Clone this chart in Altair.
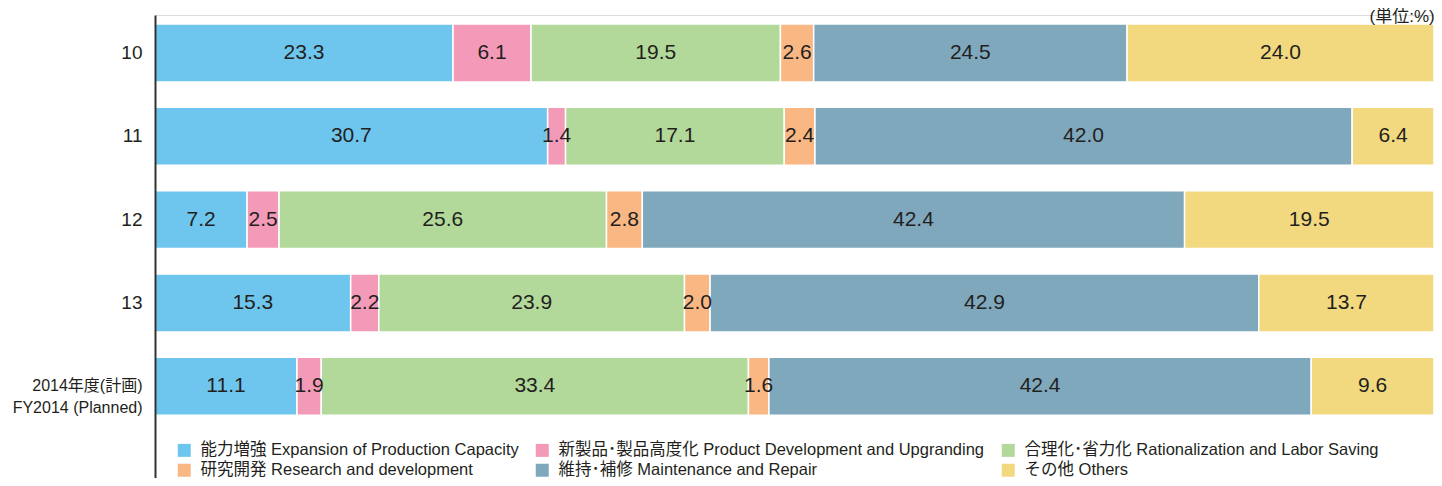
import altair as alt
import pandas as pd

years = ["10", "11", "12", "13", "2014年度(計画)|FY2014 (Planned)"]
series = [
    "能力増強 Expansion of Production Capacity",
    "新製品･製品高度化 Product Development and Upgranding",
    "合理化･省力化 Rationalization and Labor Saving",
    "研究開発 Research and development",
    "維持･補修 Maintenance and Repair",
    "その他 Others",
]
colors = ["#6EC6EE", "#F49AB9", "#B2D89A", "#F9B784", "#7FA8BD", "#F2D97F"]

capacity = [23.3, 30.7, 7.2, 15.3, 11.1]
product = [6.1, 1.4, 2.5, 2.2, 1.9]
rational = [19.5, 17.1, 25.6, 23.9, 33.4]
research = [2.6, 2.4, 2.8, 2.0, 1.6]
maint = [24.5, 42.0, 42.4, 42.9, 42.4]
others = [24.0, 6.4, 19.5, 13.7, 9.6]

values = [capacity, product, rational, research, maint, others]
rows = []
for si, (s, vals) in enumerate(zip(series, values)):
    for y, v in zip(years, vals):
        rows.append({"year": y, "series": s, "order": si, "value": v, "label": f"{v:.1f}"})
df = pd.DataFrame(rows)

FONT = "Liberation Sans, Noto Sans CJK JP"
TXT = "#231f20"

ysc = alt.Scale(domain=years, paddingInner=0.305, paddingOuter=0.43, align=0.125)
yax = alt.Axis(
    title=None,
    ticks=False,
    domainColor="#333333",
    domainWidth=2,
    labelPadding=13,
    labelFont=FONT,
    labelColor=TXT,
    labelFontSize={"condition": {"test": "length(datum.label) > 3", "value": 16}, "value": 19},
    labelExpr="split(datum.label, '|')",
    labelLineHeight=22,
    labelLimit=0,
    zindex=1,
)

base = alt.Chart(df).transform_stack(
    stack="value", groupby=["year"], as_=["x0", "x1"], sort=[alt.SortField("order")]
).transform_calculate(mid="(datum.x0 + datum.x1) / 2")

bars = base.mark_bar(stroke="white", strokeWidth=1.5).encode(
    y=alt.Y("year:N", scale=ysc, axis=yax),
    x=alt.X("x0:Q", scale=alt.Scale(domain=[0, 100], nice=False), axis=None),
    x2="x1:Q",
    color=alt.Color(
        "series:N",
        scale=alt.Scale(domain=series, range=colors),
        legend=alt.Legend(
            title=None,
            orient="none",
            direction="horizontal",
            legendX=21,
            legendY=427,
            columns=3,
            symbolType="square",
            symbolSize=169,
            symbolStrokeWidth=0,
            labelFont=FONT,
            labelFontSize=16.5,
            labelColor=TXT,
            labelOffset=8,
            columnPadding=15,
            rowPadding=3,
            labelLimit=0,
        ),
    ),
)

text = base.mark_text(font=FONT, fontSize=21, color=TXT).encode(
    y=alt.Y("year:N", scale=ysc, axis=yax),
    x=alt.X("mid:Q", scale=alt.Scale(domain=[0, 100], nice=False), axis=None),
    text="label:N",
)

chart = (
    alt.layer(bars, text)
    .properties(
        width=1279,
        height=463,
        padding={"left": 147, "top": 7, "right": 0, "bottom": 0},
        autosize=alt.AutoSizeParams(type="none"),
        title=alt.Title(
            "(単位:%)", anchor="end", fontSize=17, fontWeight="normal", font=FONT, color=TXT, offset=-11
        ),
    )
    .configure_view(stroke=None)
    .configure(background="white")
)

chart.save("out.html", embed_options={"renderer": "svg", "actions": False})
